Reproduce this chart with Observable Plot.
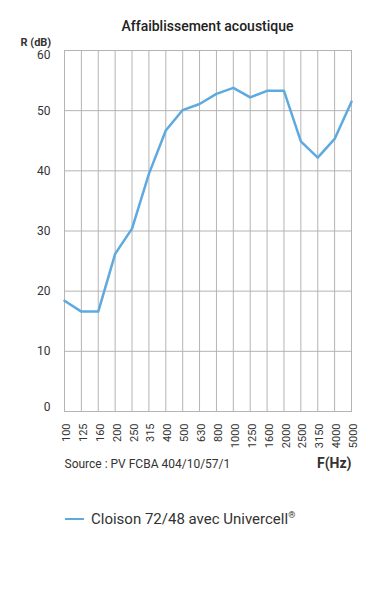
<!DOCTYPE html>
<html><head><meta charset="utf-8">
<script src="https://cdn.jsdelivr.net/npm/d3@7"></script>
<script src="https://cdn.jsdelivr.net/npm/@observablehq/plot@0.6"></script>
<style>
body{margin:0;background:#fff;font-family:Roboto,sans-serif;color:#333;}
#title{height:34px;box-sizing:border-box;padding:19px 27px 0 64px;text-align:center;font-size:14px;line-height:14px;font-weight:500;color:#222;white-space:nowrap;}
#chart svg{display:block;}
#legend{box-sizing:border-box;padding-top:30px;height:80px;}
#legend .row{display:flex;align-items:center;height:18px;line-height:18px;font-size:15px;color:#333;white-space:nowrap;}
#legend .sw{display:inline-block;width:19px;height:2.5px;margin-left:65px;margin-right:7px;}
#legend sup{font-size:9px;line-height:0;vertical-align:6px;}
</style></head><body>
<div id="title"></div>
<div id="chart"></div>
<div id="legend"></div>
<script>
const titleText = "Affaiblissement acoustique";
const frequencies = ["100","125","160","200","250","315","400","500","630","800","1000","1250","1600","2000","2500","3150","4000","5000"];
const attenuation = [18.4,16.6,16.6,26.2,30.4,39.5,46.7,50.1,51.1,52.8,53.8,52.2,53.3,53.3,44.9,42.2,45.3,51.5];
const yTicks = [0,10,20,30,40,50,60];
const yLabel = "R (dB)";
const xLabel = "F(Hz)";
const sourceText = "Source : PV FCBA 404/10/57/1";
const seriesName = "Cloison 72/48 avec Univercell";
const seriesColor = "#5ea9e0";

document.getElementById("title").textContent = titleText;

const data = frequencies.map((f, i) => ({f, r: attenuation[i]}));
const gridColor = "#b4b4b4";

const chart = Plot.plot({
  width: 378, height: 446,
  marginLeft: 64, marginRight: 27, marginTop: 16, marginBottom: 69,
  style: {fontFamily: "Roboto, sans-serif", fontSize: "11px", color: "#333", background: "#fff"},
  x: {type: "point", domain: frequencies, padding: 0, round: false},
  y: {domain: [0, 60]},
  marks: [
    Plot.gridX({stroke: gridColor, strokeOpacity: 1}),
    Plot.gridY(yTicks, {stroke: gridColor, strokeOpacity: 1}),
    Plot.frame({stroke: gridColor}),
    Plot.axisY(yTicks.slice(1, -1), {tickSize: 0, tickPadding: 14, label: null, fontSize: 12}),
    Plot.axisY(yTicks.slice(-1), {tickSize: 0, tickPadding: 14, label: null, fontSize: 12, dy: 5}),
    Plot.axisY(yTicks.slice(0, 1), {tickSize: 0, tickPadding: 14, label: null, fontSize: 12, dy: -4}),
    Plot.axisX({tickRotate: -90, tickSize: 0, tickPadding: 12, label: null, fontSize: 11, dx: 2}),
    Plot.line(data, {x: "f", y: "r", stroke: seriesColor, strokeWidth: 2.5}),
    Plot.text([yLabel], {text: d => d, frameAnchor: "top-left", dx: -44, dy: -12, textAnchor: "start", fontWeight: "bold", fontSize: 11, fill: "#333"}),
    Plot.text([xLabel], {text: d => d, frameAnchor: "bottom-right", dy: 56, textAnchor: "end", fontWeight: "bold", fontSize: 14, fill: "#333"}),
    Plot.text([sourceText], {text: d => d, frameAnchor: "bottom-left", dy: 56, textAnchor: "start", fontSize: 12, fill: "#333"})
  ]
});
document.getElementById("chart").appendChild(chart);

const legend = document.getElementById("legend");
const row = document.createElement("div");
row.className = "row";
const sw = document.createElement("span");
sw.className = "sw";
sw.style.background = seriesColor;
const label = document.createElement("span");
label.textContent = seriesName;
const sup = document.createElement("sup");
sup.textContent = "®";
label.appendChild(sup);
row.appendChild(sw);
row.appendChild(label);
legend.appendChild(row);
</script>
</body></html>
